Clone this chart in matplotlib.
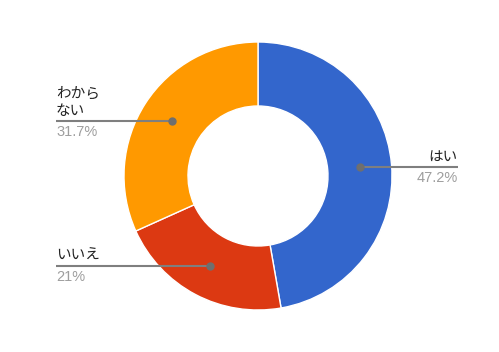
import numpy as np
import matplotlib
matplotlib.use("Agg")
import matplotlib.pyplot as plt

plt.rcParams['font.family'] = ['Noto Sans CJK JP', 'DejaVu Sans']

labels = ["はい", "いいえ", "わから\nない"]
values = [47.2, 21.0, 31.7]
pct_labels = ["47.2%", "21%", "31.7%"]
colors = ["#3366cc", "#dc3912", "#ff9900"]

W, H = 499, 352
fig = plt.figure(figsize=(W / 100, H / 100), dpi=100)
ax = fig.add_axes([0, 0, 1, 1])

cx, cy = 258, H - 176
R, r_in = 134, 70
ax.pie(values, colors=colors, startangle=90, counterclock=False,
       center=(cx, cy), radius=R, frame=True,
       wedgeprops=dict(width=R - r_in, edgecolor='white', linewidth=1))
ax.set_xlim(0, W)
ax.set_ylim(0, H)
ax.set_aspect('equal')
ax.axis('off')

total = sum(values)
cum = 0
label_x = [458, 56, 56]
mid_r = (R + r_in) / 2
for i, v in enumerate(values):
    mid = 90 - (cum + v / 2) / total * 360
    cum += v
    a = np.deg2rad(mid)
    px = cx + mid_r * np.cos(a)
    py = cy + mid_r * np.sin(a)
    lx = label_x[i]
    ax.plot([px, lx], [py, py], color='#7f7f7f', lw=1.5, solid_capstyle='butt')
    ax.plot([px], [py], 'o', color='#6f6f6f', ms=5)
    ha = 'right' if lx > cx else 'left'
    ax.text(lx, py + 3, labels[i], ha=ha, va='bottom', fontsize=10.5,
            color='#222222', linespacing=1.3)
    ax.text(lx, py - 4, pct_labels[i], ha=ha, va='top', fontsize=10.5,
            color='#9e9e9e', family=['Liberation Sans', 'DejaVu Sans'])

fig.savefig('out.png', dpi=100)
